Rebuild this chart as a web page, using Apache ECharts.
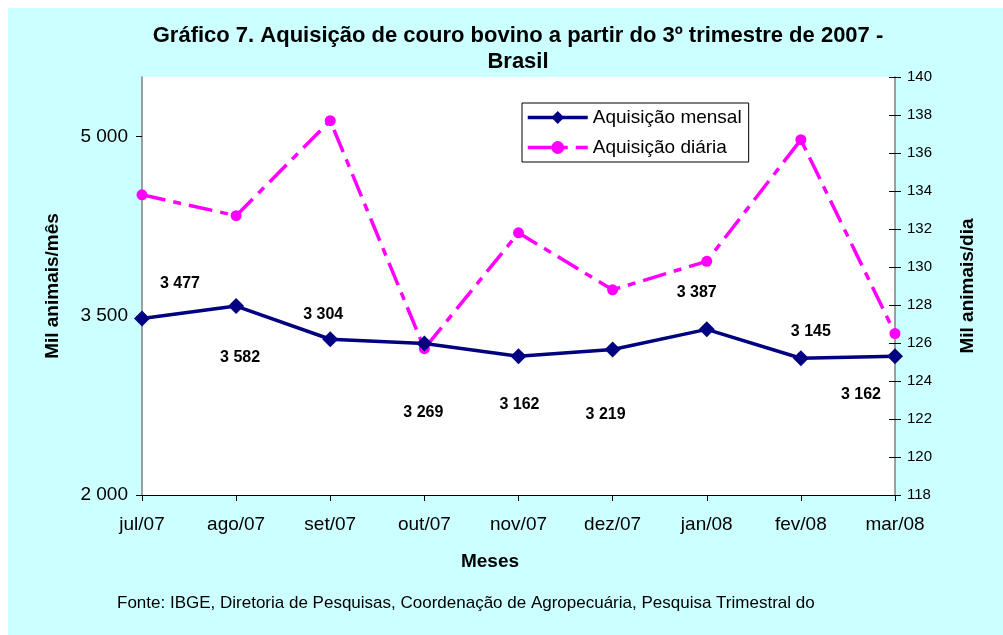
<!DOCTYPE html>
<html>
<head>
<meta charset="utf-8">
<script src="https://cdn.jsdelivr.net/npm/echarts@6/dist/echarts.min.js"></script>
<style>
  html, body { margin: 0; padding: 0; background: #ffffff; }
  #chart { width: 1003px; height: 635px; }
</style>
</head>
<body>
<div id="chart"></div>
<script>
const categories = ['jul/07', 'ago/07', 'set/07', 'out/07', 'nov/07', 'dez/07', 'jan/08', 'fev/08', 'mar/08'];
const mensal = [3477, 3582, 3304, 3269, 3162, 3219, 3387, 3145, 3162];
const diaria = [133.8, 132.7, 137.7, 125.7, 131.8, 128.8, 130.3, 136.7, 126.5];
const leftTicks = [2000, 3500, 5000];
const rightTicks = [118, 120, 122, 124, 126, 128, 130, 132, 134, 136, 138, 140];

// label offsets (style only), relative to each point
const labelOffsets = [[38, -35], [4, 52], [-7, -25], [-1, 69], [1, 48], [-7, 65], [-10, -37], [10, -27], [-34, 38]];

const FONT = 'Liberation Sans, Arial, sans-serif';
const fmt = v => {
  const s = String(Math.round(v));
  return s.replace(/\B(?=(\d{3})+(?!\d))/g, ' ');
};

const chart = echarts.init(document.getElementById('chart'), null, { renderer: 'canvas' });

const option = {
  backgroundColor: '#ffffff',
  animation: false,
  textStyle: { fontFamily: FONT },
  graphic: [
    { type: 'rect', z: -10, silent: true, shape: { x: 8, y: 8, width: 995, height: 627 }, style: { fill: '#CCFFFF' } },
    { type: 'text', x: 518, y: 36, style: { text: 'Gráfico 7. Aquisição de couro bovino a partir do 3º trimestre de 2007 -', font: 'bold 22px ' + FONT, fill: '#000', align: 'center', verticalAlign: 'middle' } },
    { type: 'text', x: 518, y: 62, style: { text: 'Brasil', font: 'bold 22px ' + FONT, fill: '#000', align: 'center', verticalAlign: 'middle' } },
    { type: 'text', x: 490, y: 562, style: { text: 'Meses', font: 'bold 19px ' + FONT, fill: '#000', align: 'center', verticalAlign: 'middle' } },
    { type: 'text', x: 117, y: 603, style: { text: 'Fonte: IBGE, Diretoria de Pesquisas, Coordenação de Agropecuária, Pesquisa Trimestral do', font: '17px ' + FONT, fill: '#000', align: 'left', verticalAlign: 'middle' } }
  ],
  grid: {
    left: 142, right: 108, top: 77, bottom: 140,
    show: true, backgroundColor: '#ffffff', borderWidth: 0
  },
  legend: {
    left: 522, top: 103,
    orient: 'vertical',
    backgroundColor: '#ffffff',
    borderColor: '#000000', borderWidth: 1,
    padding: [5, 7, 5, 4],
    itemWidth: 60, itemHeight: 16, itemGap: 11,
    textStyle: { fontFamily: FONT, fontSize: 19, color: '#000' },
    data: [
      { name: 'Aquisição mensal', lineStyle: { width: 3.5 } },
      { name: 'Aquisição diária', lineStyle: { width: 3.5 } }
    ]
  },
  xAxis: {
    type: 'category',
    data: categories,
    boundaryGap: false,
    axisLine: { lineStyle: { color: '#000', width: 1 } },
    axisTick: { show: true, length: 6, lineStyle: { color: '#000' } },
    axisLabel: { fontFamily: FONT, fontSize: 19, color: '#000', margin: 20 },
    splitLine: { show: false }
  },
  yAxis: [
    {
      type: 'value',
      min: 2000, max: 5500, interval: 1500,
      position: 'left',
      name: 'Mil animais/mês',
      nameLocation: 'middle',
      nameGap: 80,
      nameRotate: 90,
      nameTextStyle: { fontFamily: FONT, fontSize: 19, fontWeight: 'bold', color: '#000' },
      axisLine: { show: true, lineStyle: { color: '#808080', width: 1.5 } },
      axisTick: { show: true, length: 6, lineStyle: { color: '#000' }, customValues: leftTicks },
      axisLabel: {
        fontFamily: FONT, fontSize: 19, color: '#000', margin: 14,
        customValues: leftTicks,
        formatter: v => fmt(v)
      },
      splitLine: { show: false }
    },
    {
      type: 'value',
      min: 118, max: 140, interval: 2,
      position: 'right',
      name: 'Mil animais/dia',
      nameLocation: 'middle',
      nameGap: 63,
      nameRotate: 90,
      nameTextStyle: { fontFamily: FONT, fontSize: 19, fontWeight: 'bold', color: '#000' },
      axisLine: { show: true, lineStyle: { color: '#808080', width: 1.5 } },
      axisTick: { show: true, length: 6, lineStyle: { color: '#000' } },
      axisLabel: {
        fontFamily: FONT, fontSize: 15, color: '#000', margin: 12,
        formatter: v => (rightTicks.indexOf(v) >= 0 ? String(v) : '')
      },
      splitLine: { show: false }
    },
    {
      type: 'value',
      min: 118, max: 140, interval: 2,
      position: 'right',
      axisLine: { show: false },
      axisTick: { show: true, inside: true, length: 6, lineStyle: { color: '#000' } },
      axisLabel: { show: false },
      splitLine: { show: false }
    }
  ],
  series: [
    {
      name: 'Aquisição diária',
      type: 'line',
      yAxisIndex: 1,
      data: diaria,
      symbol: 'circle',
      symbolSize: 11,
      itemStyle: { color: '#FF00FF' },
      lineStyle: { color: '#FF00FF', width: 3.5, type: [24, 8, 8, 8] },
      z: 2
    },
    {
      name: 'Aquisição mensal',
      type: 'line',
      yAxisIndex: 0,
      data: mensal.map((v, i) => ({
        value: v,
        label: { offset: labelOffsets[i] }
      })),
      symbol: 'diamond',
      symbolSize: 16,
      itemStyle: { color: '#000080' },
      lineStyle: { color: '#000080', width: 3.5 },
      label: {
        show: true,
        position: 'inside',
        fontFamily: FONT, fontSize: 16, fontWeight: 'bold', color: '#000',
        formatter: p => fmt(p.value)
      },
      z: 3
    }
  ]
};

chart.setOption(option);
</script>
</body>
</html>
